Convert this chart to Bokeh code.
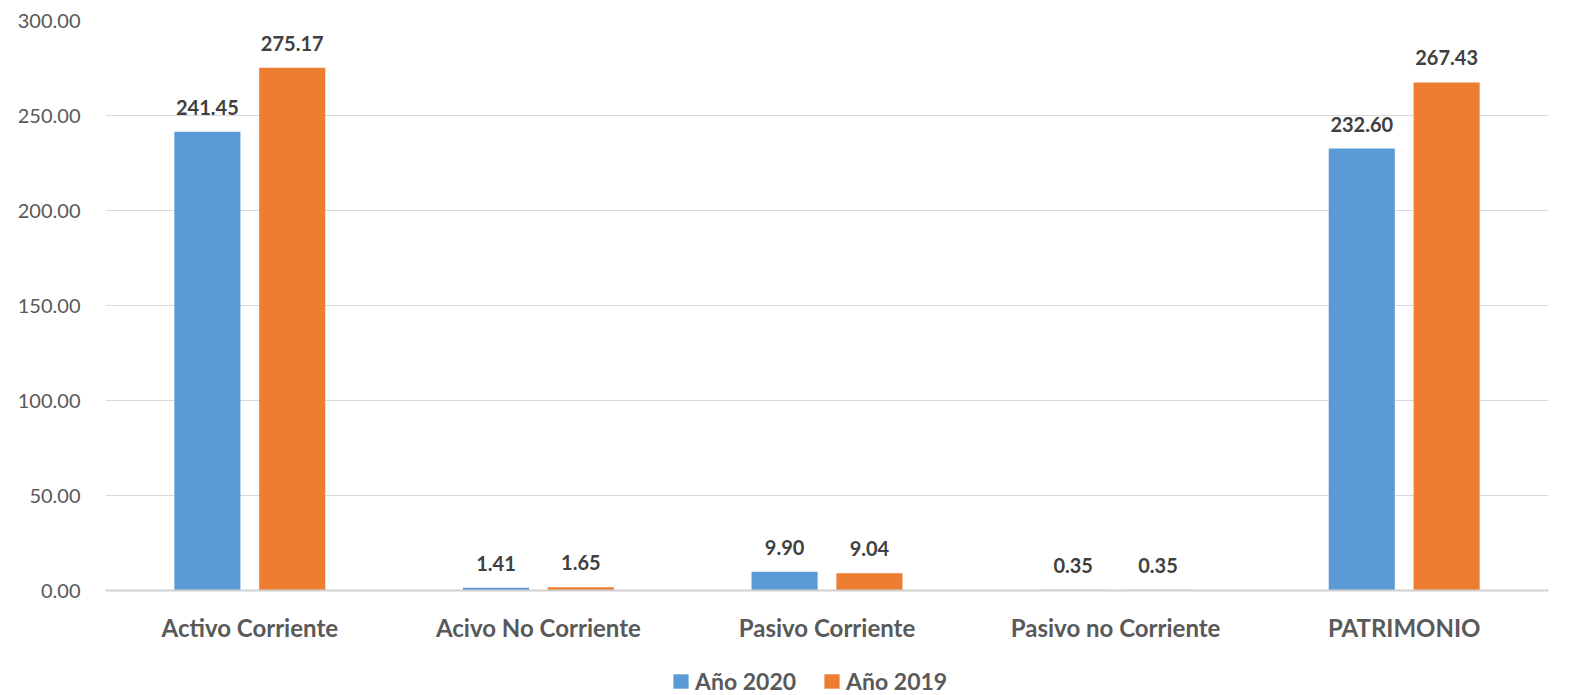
from bokeh.plotting import figure
from bokeh.layouts import column
from bokeh.models import (ColumnDataSource, FactorRange, Range1d, Legend, LegendItem,
                          NumeralTickFormatter, FixedTicker)
from bokeh.transform import dodge
from bokeh.core.properties import value
from bokeh.embed import file_html
from bokeh.resources import INLINE

categories = ["Activo Corriente", "Acivo No Corriente", "Pasivo Corriente", "Pasivo no Corriente", "PATRIMONIO"]
series_names = ["Año 2020", "Año 2019"]
values_2020 = [241.45, 1.41, 9.90, 0.35, 232.60]
values_2019 = [275.17, 1.65, 9.04, 0.35, 267.43]
y_ticks = [0, 50, 100, 150, 200, 250, 300]

FONT = "Lato"
BLUE = "#5B9BD5"
ORANGE = "#ED7D31"

src = ColumnDataSource(dict(
    cat=categories,
    v2020=values_2020,
    v2019=values_2019,
    l2020=[f"{v:.2f}" for v in values_2020],
    l2019=[f"{v:.2f}" for v in values_2019],
))

p = figure(width=1575, height=645, x_range=FactorRange(*categories, range_padding=0),
           y_range=Range1d(0, 300), output_backend="svg", toolbar_location=None,
           min_border_left=105, min_border_right=27, min_border_top=20, min_border_bottom=55)
p.outline_line_color = None

r1 = p.vbar(x=dodge("cat", -0.147, range=p.x_range), top="v2020", width=0.229, source=src,
            fill_color=BLUE, line_color=None)
r2 = p.vbar(x=dodge("cat", 0.147, range=p.x_range), top="v2019", width=0.229, source=src,
            fill_color=ORANGE, line_color=None)

for off, col in [(-0.147, "l2020"), (0.147, "l2019")]:
    ycol = "v2020" if col == "l2020" else "v2019"
    p.text(x=dodge("cat", off, range=p.x_range), y=ycol, text=col, source=src,
           text_font=value(FONT), text_font_style="bold", text_font_size="20px",
           text_color="#404040", text_align="center", text_baseline="bottom", y_offset=-17)

p.yaxis.ticker = FixedTicker(ticks=y_ticks)
p.yaxis.formatter = NumeralTickFormatter(format="0.00")
p.yaxis.axis_line_color = None
p.yaxis.major_tick_line_color = None
p.yaxis.minor_tick_line_color = None
p.yaxis.major_label_text_font = FONT
p.yaxis.major_label_text_font_size = "20px"
p.yaxis.major_label_text_color = "#595959"
p.yaxis.major_label_standoff = 19

p.xaxis.axis_line_color = "#D0D0D0"
p.xaxis.axis_line_width = 2
p.xaxis.major_tick_line_color = None
p.xaxis.minor_tick_line_color = None
p.xaxis.major_label_text_font = FONT
p.xaxis.major_label_text_font_style = "bold"
p.xaxis.major_label_text_font_size = "24px"
p.xaxis.major_label_text_color = "#595959"
p.xaxis.major_label_standoff = 16

p.xgrid.grid_line_color = None
p.ygrid.grid_line_color = "#D9D9D9"
p.ygrid.grid_line_width = 1

# legend strip below the chart (zero-size proxy glyphs carry the legend swatches)
pl = figure(width=1575, height=50, x_range=Range1d(0, 1), y_range=Range1d(0, 1),
            output_backend="svg", toolbar_location=None, x_axis_type=None, y_axis_type=None,
            min_border=0)
pl.outline_line_color = None
pl.grid.grid_line_color = None
proxy = ColumnDataSource(dict(x=[0.0], top=[0.0]))
lr1 = pl.vbar(x="x", top="top", bottom="top", width=0.0, source=proxy, fill_color=BLUE, line_color=None)
lr2 = pl.vbar(x="x", top="top", bottom="top", width=0.0, source=proxy, fill_color=ORANGE, line_color=None)

legend = Legend(items=[LegendItem(label=series_names[0], renderers=[lr1]),
                       LegendItem(label=series_names[1], renderers=[lr2])],
                orientation="horizontal", location=(566, 0),
                label_text_font=FONT, label_text_font_style="bold", label_text_font_size="23px",
                label_text_color="#595959", glyph_width=19, glyph_height=18, label_standoff=5,
                spacing=26, border_line_color=None, background_fill_alpha=0,
                padding=0, margin=0)
pl.add_layout(legend, "center")

layout = column(p, pl, spacing=0)
open("out.html", "w").write(file_html(layout, INLINE))
